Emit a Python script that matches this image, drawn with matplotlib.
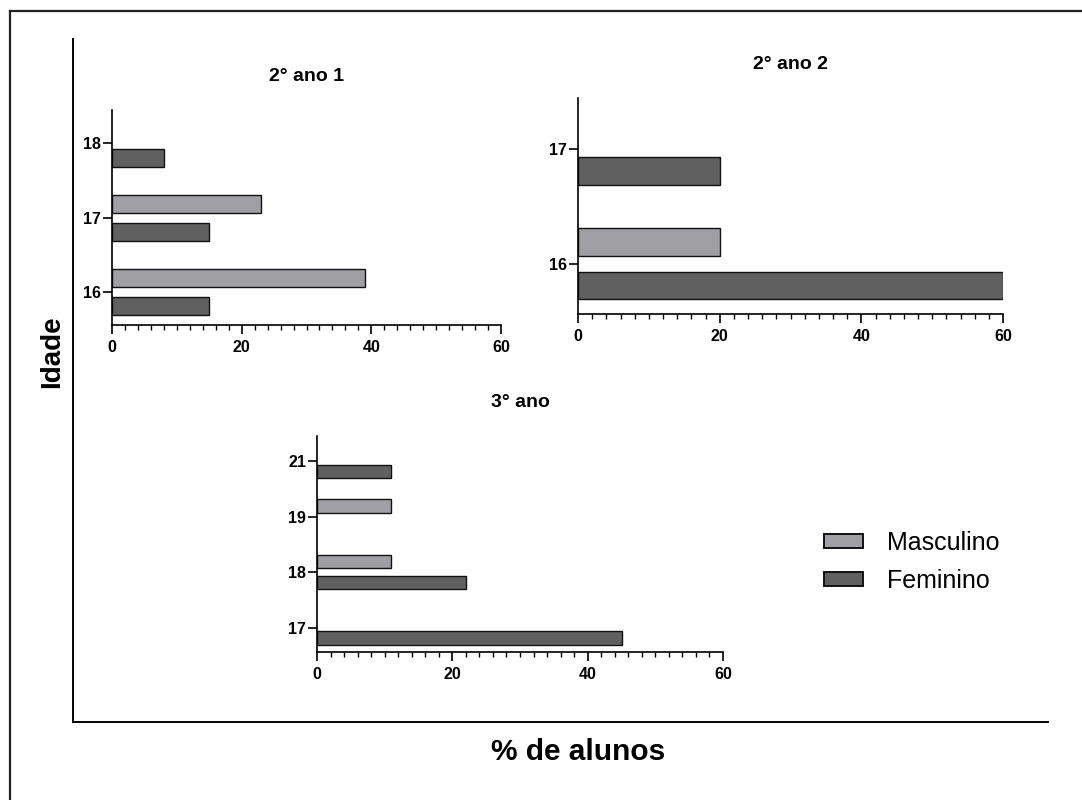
import numpy as np
import matplotlib
matplotlib.use('Agg')
from matplotlib import pyplot as plt
from matplotlib.patches import Patch
from matplotlib.lines import Line2D
from matplotlib.ticker import MultipleLocator

plt.rcParams['font.family'] = ['Liberation Sans', 'DejaVu Sans']

# data (% de alunos)
idades_1 = ['16', '17', '18']
masc_1 = [39, 23, 0]
fem_1 = [15, 15, 8]

idades_2 = ['16', '17']
masc_2 = [20, 0]
fem_2 = [60, 20]

idades_3 = ['17', '18', '19', '21']
masc_3 = [0, 11, 11, 0]
fem_3 = [45, 22, 0, 11]

titulos = ['2° ano 1', '2° ano 2', '3° ano']
legenda = ['Masculino', 'Feminino']
cor_masc = '#a0a0a4'
cor_fem = '#606060'

W, H = 1082, 800
fig = plt.figure(figsize=(W/100, H/100), dpi=100)

# outer frame (left and top edges only visible)
fig.add_artist(Line2D([10/W, 10/W], [0, 1-11/H], transform=fig.transFigure, color='#222222', lw=1.6))
fig.add_artist(Line2D([10/W, 1], [1-11/H, 1-11/H], transform=fig.transFigure, color='#222222', lw=1.6))

# big outer axes carrying the common labels
big = fig.add_axes([73/W, 1-722/H, (1048-73)/W, (722-39)/H])
big.set_xticks([])
big.set_yticks([])
big.spines[['top', 'right']].set_visible(False)
for s in ['left', 'bottom']:
    big.spines[s].set_linewidth(1.4)
big.patch.set_alpha(0)
big.set_ylabel('Idade', fontsize=20, fontweight='bold')
big.yaxis.set_label_coords(-0.008, (722-352)/683)
big.set_xlabel('% de alunos', fontsize=21.5, fontweight='bold')
big.xaxis.set_label_coords((578-73)/975, -0.024)


def painel(rect, idades, masc, fem, titulo):
    ax = fig.add_axes(rect)
    y = np.arange(len(idades))
    masc = np.array(masc, dtype=float)
    fem = np.array(fem, dtype=float)
    m = masc > 0
    f = fem > 0
    ax.barh(y[m] + 0.19, masc[m], height=0.24, color=cor_masc, edgecolor='#111111', linewidth=1.0)
    ax.barh(y[f] - 0.19, fem[f], height=0.24, color=cor_fem, edgecolor='#111111', linewidth=1.0)
    ax.set_xlim(0, 60)
    ax.set_ylim(-0.44, len(idades) - 1 + 0.45)
    ax.set_yticks(y)
    ax.set_yticklabels(idades)
    ax.set_xticks([0, 20, 40, 60])
    ax.xaxis.set_minor_locator(MultipleLocator(2))
    ax.spines[['top', 'right']].set_visible(False)
    for s in ['left', 'bottom']:
        ax.spines[s].set_linewidth(1.2)
    ax.tick_params(axis='x', which='major', length=6.5, width=1.2, pad=4, labelsize=11.5)
    ax.tick_params(axis='x', which='minor', length=3.3, width=1.0)
    ax.tick_params(axis='y', length=6.5, width=1.2, pad=1.5, labelsize=11.5)
    for lab in ax.get_xticklabels() + ax.get_yticklabels():
        lab.set_fontweight('bold')
    ax.set_title(titulo, fontsize=14, fontweight='bold', pad=21)
    ax.patch.set_alpha(0)
    return ax


painel([112/W, 1-325/H, (501-112)/W, (325-110)/H], idades_1, masc_1, fem_1, titulos[0])
painel([578/W, 1-314/H, (1003-578)/W, (314-98)/H], idades_2, masc_2, fem_2, titulos[1])
painel([317/W, 1-652/H, (723-317)/W, (652-436)/H], idades_3, masc_3, fem_3, titulos[2])

alças = [Patch(facecolor=cor_masc, edgecolor='#111111', linewidth=1.4),
         Patch(facecolor=cor_fem, edgecolor='#111111', linewidth=1.4)]
fig.legend(alças, legenda, loc='upper left', bbox_to_anchor=(824/W, 1-531/H),
           frameon=False, fontsize=18, borderpad=0, borderaxespad=0,
           handlelength=1.56, handleheight=0.48, handletextpad=0.96, labelspacing=0.55)

fig.savefig('out.png', dpi=100)
